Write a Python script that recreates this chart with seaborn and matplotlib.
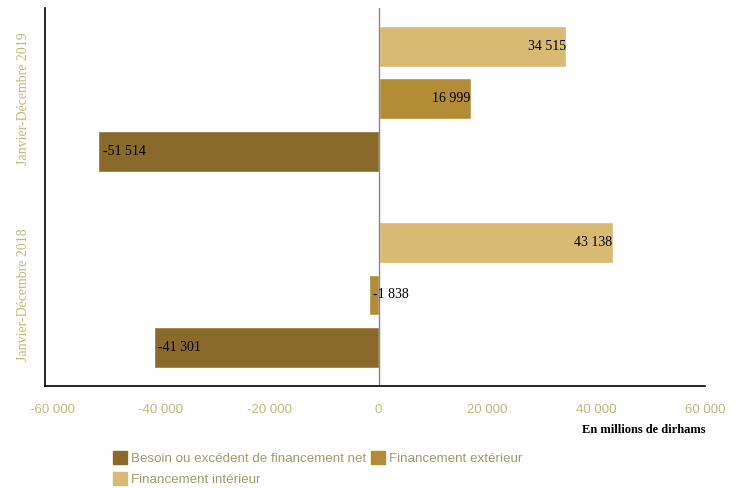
#Libraries
import pandas as pd
import seaborn as sns
import matplotlib.pyplot as plt
from matplotlib.patches import Patch

#Data
periods = ["Janvier-Décembre 2019", "Janvier-Décembre 2018"]
series = ["Financement intérieur", "Financement extérieur", "Besoin ou excédent de financement net"]
interieur = [34515, 43138]
exterieur = [16999, -1838]
net = [-51514, -41301]
xticks = [-60000, -40000, -20000, 0, 20000, 40000, 60000]

colors = {"Besoin ou excédent de financement net": "#8a6a2b",
          "Financement extérieur": "#b28d36",
          "Financement intérieur": "#d8ba72"}
olive = "#c2b877"

#Long table for seaborn
df = pd.DataFrame({
    "periode": periods * 3,
    "serie": [series[0]] * 2 + [series[1]] * 2 + [series[2]] * 2,
    "valeur": interieur + exterieur + net,
})

def fmt(v): #French style thousands separator
    return f"{v:,.0f}".replace(",", " ")

sns.set_style("white")
fig = plt.figure(figsize=(7.36, 4.88), dpi=100)
ax = fig.add_axes([0.0611, 0.209, 0.897, 0.775])

sns.barplot(data=df, x="valeur", y="periode", hue="serie", order=periods,
            hue_order=series, palette=colors, saturation=1, orient="h", width=0.8, gap=0.22,
            legend=False, ax=ax)

#Value labels inside the bar ends
for cont in ax.containers:
    for bar in cont:
        w = bar.get_width()
        yc = bar.get_y() + bar.get_height() / 2
        if w >= 0:
            ax.text(w - 150, yc, fmt(w), ha="right", va="center",
                    family="Liberation Serif", fontsize=10, color="black")
        else:
            ax.text(w + 800, yc, fmt(w), ha="left", va="center",
                    family="Liberation Serif", fontsize=10, color="black")

ax.axvline(0, color="#888888", lw=1)
ax.set_xlim(-61300, 60000)
ax.set_ylim(1.464, -0.464)
ax.set_xticks(xticks)
ax.set_xticklabels([fmt(t) for t in xticks], family="Liberation Sans",
                   fontsize=9.5, color=olive)
ax.tick_params(axis="x", direction="out", length=8, width=1, color=olive, pad=5)
ax.tick_params(axis="y", length=0, pad=11)
ax.set_yticks([0, 1])
ax.set_yticklabels(periods, rotation=90, va="center", family="Liberation Serif",
                   fontsize=10, color=olive)
ax.set_xlabel("")
ax.set_ylabel("")
for s in ["top", "right"]:
    ax.spines[s].set_visible(False)
for s in ["left", "bottom"]:
    ax.spines[s].set_color("black")
    ax.spines[s].set_linewidth(1.2)

fig.text(0.958, 0.118, "En millions de dirhams", ha="right", va="center",
         family="Liberation Serif", fontsize=9, fontweight="bold", color="black")

#Legend (column-major fill, so order gives rows: net, exterieur / interieur)
leg_order = ["Besoin ou excédent de financement net", "Financement intérieur", "Financement extérieur"]
handles = [Patch(color=colors[s]) for s in leg_order]
leg = fig.legend(handles, leg_order,
                 loc="upper left", bbox_to_anchor=(0.153, 0.075), ncol=2, frameon=False,
                 handlelength=1.1, handleheight=1.1, handletextpad=0.25, columnspacing=0.35,
                 labelspacing=0.5, borderaxespad=0, borderpad=0,
                 prop={"family": "Liberation Sans", "size": 9.6})
for t in leg.get_texts():
    t.set_color("#a39a6a")

fig.savefig("out.png", dpi=100)
